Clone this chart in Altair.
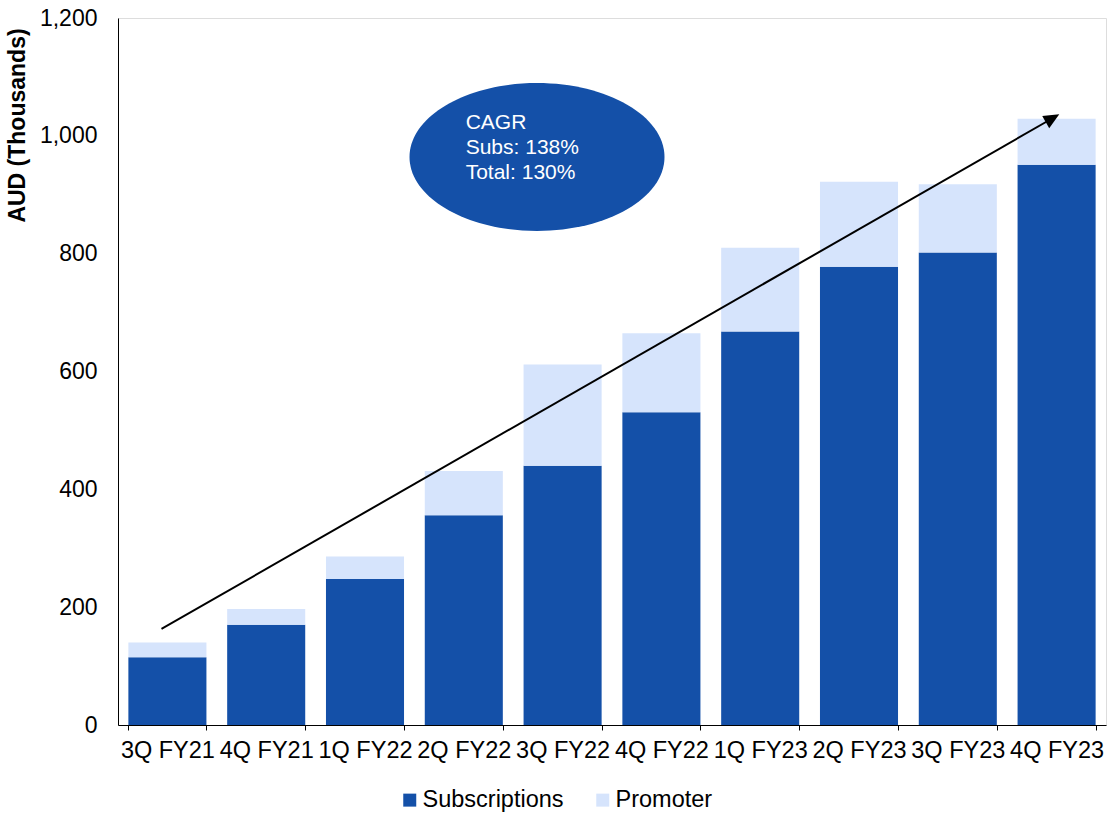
import altair as alt
import pandas as pd

quarters = ["3Q FY21", "4Q FY21", "1Q FY22", "2Q FY22", "3Q FY22",
            "4Q FY22", "1Q FY23", "2Q FY23", "3Q FY23", "4Q FY23"]
subscriptions = [115, 170, 248, 356, 440, 531, 668, 778, 802, 951]
promoter = [25, 27, 38, 75, 172, 134, 142, 144, 116, 78]

series_names = ["Subscriptions", "Promoter"]
series_colors = ["#1450A8", "#D6E4FC"]

# annotation data (x in band-index units, y in AUD thousands)
arrow_x = [0.44, 9.45]
arrow_y = [163, 1029]
arrow_tip_x = [9.527]
arrow_tip_y = [1036.5]
ellipse_x = [4.241]
ellipse_y = [964]
cagr_lines = ["CAGR", "Subs: 138%", "Total: 130%"]
cagr_x = [3.519, 3.519, 3.519]
cagr_y = [1021.8, 979.3, 936.9]

FONT = "Liberation Sans"
W, H = 988, 707

rows = []
for i, q in enumerate(quarters):
    rows.append({"quarter": q, "series": "Subscriptions", "value": subscriptions[i], "ord": 0})
    rows.append({"quarter": q, "series": "Promoter", "value": promoter[i], "ord": 1})
bars_df = pd.DataFrame(rows)

yscale = alt.Scale(domain=[0, 1200], nice=False, zero=True)
xq = alt.Scale(domain=[0, 10], nice=False, zero=False)

bars = alt.Chart(bars_df).mark_bar().encode(
    x=alt.X("quarter:N", sort=quarters,
            scale=alt.Scale(paddingInner=0.21, paddingOuter=0.105),
            axis=alt.Axis(title=None, labelAngle=0, labelOverlap=False,
                          labelFontSize=23.5, labelFont=FONT, labelColor="black",
                          labelBound=False, labelFlush=False, labelLimit=0,
                          tickBand="extent", tickSize=5, tickColor="black",
                          domainColor="black", labelPadding=8)),
    y=alt.Y("value:Q", stack="zero", scale=yscale,
            axis=alt.Axis(title="AUD (Thousands)", values=[0, 200, 400, 600, 800, 1000, 1200],
                          format=",d", grid=False, ticks=False, labelPadding=21,
                          labelFontSize=23, labelFont=FONT, labelColor="black",
                          domainColor="black",
                          titleFontSize=23, titleFont=FONT, titleFontWeight="bold",
                          titleColor="black", titleAngle=-90, titleX=-101, titleY=107,
                          titleAlign="center", titleBaseline="middle")),
    color=alt.Color("series:N",
                    scale=alt.Scale(domain=series_names, range=series_colors),
                    legend=alt.Legend(title=None, orient="none", direction="horizontal",
                                      legendX=280, legendY=770, symbolType="square",
                                      symbolSize=169, symbolStrokeWidth=0,
                                      labelFontSize=23.5, labelFont=FONT, labelColor="black",
                                      labelOffset=1, columnPadding=27, padding=0)),
    order=alt.Order("ord:Q", sort="ascending"),
)

arrow_df = pd.DataFrame({"x": arrow_x, "value": arrow_y})
arrow = alt.Chart(arrow_df).mark_line(color="black", strokeWidth=2).encode(
    x=alt.X("x:Q", scale=xq, axis=None),
    y=alt.Y("value:Q", scale=yscale, axis=None),
)

tip_df = pd.DataFrame({"x": arrow_tip_x, "value": arrow_tip_y})
tip = alt.Chart(tip_df).mark_point(
    shape="M 0 0 L 0.45 1 L -0.45 1 Z", size=973, filled=True,
    color="black", opacity=1, strokeWidth=0, angle=60.2,
).encode(
    x=alt.X("x:Q", scale=xq, axis=None),
    y=alt.Y("value:Q", scale=yscale, axis=None),
)

ell_df = pd.DataFrame({"x": ellipse_x, "value": ellipse_y})
ellipse = alt.Chart(ell_df).mark_point(
    shape="M -1 0 A 1 0.58 0 1 1 1 0 A 1 0.58 0 1 1 -1 0 Z", size=65025,
    filled=True, color="#1450A8", opacity=1, strokeWidth=0,
).encode(
    x=alt.X("x:Q", scale=xq, axis=None),
    y=alt.Y("value:Q", scale=yscale, axis=None),
)

txt_df = pd.DataFrame({"x": cagr_x, "value": cagr_y, "label": cagr_lines})
texts = alt.Chart(txt_df).mark_text(
    align="left", baseline="middle", fontSize=21, font=FONT, color="white",
).encode(
    x=alt.X("x:Q", scale=xq, axis=None),
    y=alt.Y("value:Q", scale=yscale, axis=None),
    text="label:N",
)

chart = alt.layer(bars, arrow, tip, ellipse, texts).resolve_scale(
    x="independent"
).resolve_axis(y="independent").properties(
    width=W, height=H,
    autosize=alt.AutoSizeParams(type="none"),
    padding={"left": 118, "top": 18, "right": 1, "bottom": 89},
).configure_view(stroke=None).configure(background="white")

chart.save("out.html", embed_options={"renderer": "svg", "actions": False})
